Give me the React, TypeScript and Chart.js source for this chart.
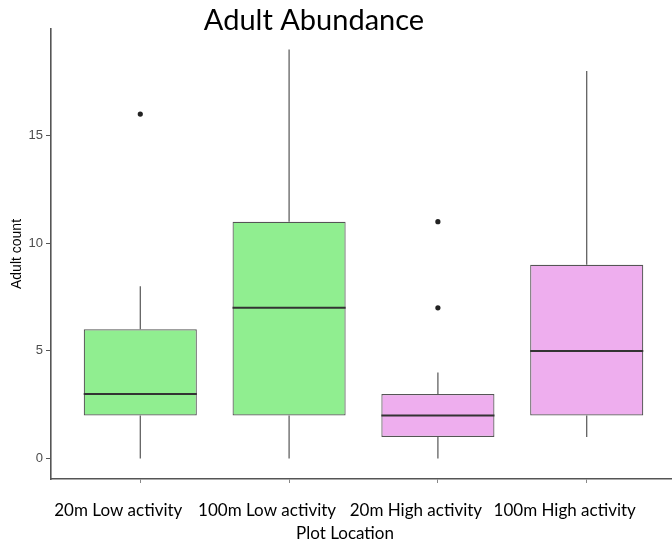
import React, { useEffect, useRef } from "react";
import { Chart, registerables } from "chart.js";

Chart.register(...registerables);

const categories = ["20m Low activity", "100m Low activity", "20m High activity", "100m High activity"];
const whiskerLow = [0, 0, 0, 1];
const q1 = [2, 2, 1, 2];
const median = [3, 7, 2, 5];
const q3 = [6, 11, 3, 9];
const whiskerHigh = [8, 19, 4, 18];
const outlierCategory = [0, 2, 2];
const outlierValue = [16, 7, 11];
const boxColors = ["#90EE90", "#90EE90", "#EEAEEE", "#EEAEEE"];
const yTicks = [0, 5, 10, 15];
const titleText = "Adult Abundance";
const xTitle = "Plot Location";
const yTitle = "Adult count";

const boxPlugin = {
  id: "boxExtras",
  afterDatasetsDraw(chart: any) {
    const { ctx, scales } = chart;
    const xs = scales.x;
    const ys = scales.y;
    const meta = chart.getDatasetMeta(0);
    ctx.save();
    categories.forEach((_, i) => {
      const bar = meta.data[i];
      const half = bar.width / 2;
      const cx = xs.getPixelForValue(i);
      ctx.strokeStyle = "#555";
      ctx.lineWidth = 1.2;
      ctx.beginPath();
      ctx.moveTo(cx, ys.getPixelForValue(q3[i]));
      ctx.lineTo(cx, ys.getPixelForValue(whiskerHigh[i]));
      ctx.moveTo(cx, ys.getPixelForValue(q1[i]));
      ctx.lineTo(cx, ys.getPixelForValue(whiskerLow[i]));
      ctx.stroke();
      ctx.strokeStyle = "#333";
      ctx.lineWidth = 2;
      ctx.beginPath();
      const my = ys.getPixelForValue(median[i]);
      ctx.moveTo(cx - half, my);
      ctx.lineTo(cx + half, my);
      ctx.stroke();
    });
    ctx.restore();
  },
  afterDraw(chart: any) {
    const { ctx, chartArea } = chart;
    ctx.save();
    ctx.fillStyle = "#000";
    ctx.textAlign = "center";
    ctx.textBaseline = "alphabetic";
    ctx.font = "29px Lato";
    ctx.fillText(titleText, chartArea.left + 263, chartArea.top + 1);
    ctx.font = "17px Lato";
    ctx.textBaseline = "middle";
    ctx.fillText(xTitle, chartArea.left + 294, chartArea.bottom + 55);
    ctx.restore();
  },
};

export default function App() {
  const ref = useRef<HTMLCanvasElement>(null);
  useEffect(() => {
    if (!ref.current) return;
    const chart = new Chart(ref.current, {
      type: "bar",
      data: {
        datasets: [
          {
            type: "bar",
            data: categories.map((_, i) => ({ x: i, y: [q1[i], q3[i]] })) as any,
            backgroundColor: boxColors,
            borderColor: "#555",
            borderWidth: 1.2,
            borderSkipped: false,
            categoryPercentage: 1,
            barPercentage: 0.76,
          } as any,
          {
            type: "scatter",
            data: outlierCategory.map((c, k) => ({ x: c, y: outlierValue[k] })),
            pointRadius: 2.6,
            pointBackgroundColor: "#222",
            pointBorderWidth: 0,
          } as any,
        ],
      },
      options: {
        responsive: false,
        animation: false,
        devicePixelRatio: 1,
        layout: { padding: { top: 29, right: 4, left: 0, bottom: 0 } },
        plugins: { legend: { display: false }, tooltip: { enabled: false }, title: { display: false } },
        scales: {
          x: {
            type: "linear",
            min: -0.6,
            max: 3.6,
            offset: false,
            afterBuildTicks: (s: any) => {
              s.ticks = categories.map((_, i) => ({ value: i }));
            },
            afterFit: (s: any) => {
              s.height = 67;
            },
            ticks: {
              callback: (v: any) => categories[v as number],
              autoSkip: false,
              maxRotation: 0,
              minRotation: 0,
              padding: 17,
              labelOffset: -22,
              color: "#000",
              font: { family: "Lato", size: 17 },
            },
            grid: { offset: false, drawOnChartArea: false, drawTicks: true, tickLength: 4, color: "#888", lineWidth: 1 },
            border: { display: true, color: "#555", width: 1.6 },
          },
          y: {
            type: "linear",
            min: -0.95,
            max: 19.95,
            afterBuildTicks: (s: any) => {
              s.ticks = yTicks.map((v) => ({ value: v }));
            },
            afterFit: (s: any) => {
              s.width = 51;
            },
            ticks: {
              padding: 3,
              color: "#4D4D4D",
              font: { family: "Liberation Sans", size: 13 },
            },
            title: {
              display: true,
              text: yTitle,
              color: "#000",
              font: { family: "Liberation Sans", size: 14 },
              padding: { top: 9, bottom: 0 },
            },
            grid: { drawOnChartArea: false, drawTicks: true, tickLength: 5, color: "#555", lineWidth: 1 },
            border: { display: true, color: "#555", width: 1.6 },
          },
        },
      },
      plugins: [boxPlugin],
    });
    return () => chart.destroy();
  }, []);
  return (
    <div style={{ position: "fixed", left: 0, top: 0, width: 672, height: 546, overflow: "hidden", background: "#fff" }}>
      <canvas ref={ref} width={680} height={546} style={{ display: "block" }} />
    </div>
  );
}
